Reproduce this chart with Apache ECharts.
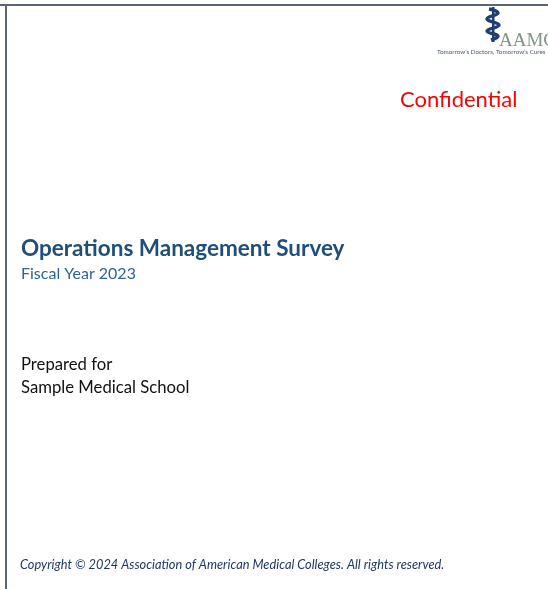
<!DOCTYPE html>
<html>
<head>
<meta charset="utf-8">
<script src="https://cdn.jsdelivr.net/npm/echarts@6/dist/echarts.min.js"></script>
<style>
  html, body { margin: 0; padding: 0; background: #ffffff; }
  #main { width: 548px; height: 589px; }
</style>
</head>
<body>
<div id="main"></div>
<script>
// cover page text
const titleLines = ['Operations Management Survey', 'Fiscal Year 2023']
const preparedLines = ['Prepared for', 'Sample Medical School']
const stampText = 'Confidential'
const logoText = 'AAMC'
const taglineText = 'Tomorrow\u2019s Doctors, Tomorrow\u2019s Cures'
const copyrightText = 'Copyright \u00a9 2024 Association of American Medical Colleges. All rights reserved.'

const FONT = 'Lato, "Open Sans", sans-serif'
const BORDER = '#5b6579'
const LOGO_BLUE = '#1f3f72'

const chart = echarts.init(document.getElementById('main'))

const option = {
  backgroundColor: '#ffffff',
  animation: false,
  graphic: [
    // page frame (top + left)
    { type: 'rect', shape: { x: 0, y: 4, width: 548, height: 2 }, style: { fill: BORDER } },
    { type: 'rect', shape: { x: 5, y: 4, width: 2, height: 585 }, style: { fill: BORDER } },

    // logo: staff + snake
    { type: 'rect', shape: { x: 492, y: 7, width: 2.5, height: 35 }, style: { fill: LOGO_BLUE } },
    {
      type: 'polyline',
      shape: { points: [[489, 9], [498, 13], [487, 19], [499, 25], [487, 31], [498, 36], [491, 40]], smooth: 0.5 },
      style: { stroke: LOGO_BLUE, lineWidth: 3.4, fill: null }
    },
    {
      type: 'text', left: 499, top: 32,
      style: { text: logoText, font: '19px "Liberation Serif", serif', fill: '#7f9786' }
    },
    {
      type: 'text', left: 437, top: 49,
      style: { text: taglineText, font: '6.3px ' + FONT, fill: '#4a5a72' }
    },

    // stamp
    {
      type: 'text', left: 400, top: 89,
      style: { text: stampText, font: '22px ' + FONT, fill: '#ff0000' }
    },

    // title block
    {
      type: 'text', left: 21, top: 237,
      style: { text: titleLines[0], font: 'bold 22.5px ' + FONT, fill: '#1f4e79' }
    },
    {
      type: 'text', left: 21, top: 266,
      style: { text: titleLines[1], font: '16px ' + FONT, fill: '#2e6395' }
    },

    // prepared for
    {
      type: 'text', left: 21, top: 356,
      style: { text: preparedLines[0], font: '16.7px ' + FONT, fill: '#111111' }
    },
    {
      type: 'text', left: 21, top: 379,
      style: { text: preparedLines[1], font: '16.7px ' + FONT, fill: '#111111' }
    },

    // footer
    {
      type: 'text', left: 20, top: 558,
      style: { text: copyrightText, font: 'italic 12.8px ' + FONT, fill: '#1f3864' }
    }
  ]
}

chart.setOption(option)
</script>
</body>
</html>
